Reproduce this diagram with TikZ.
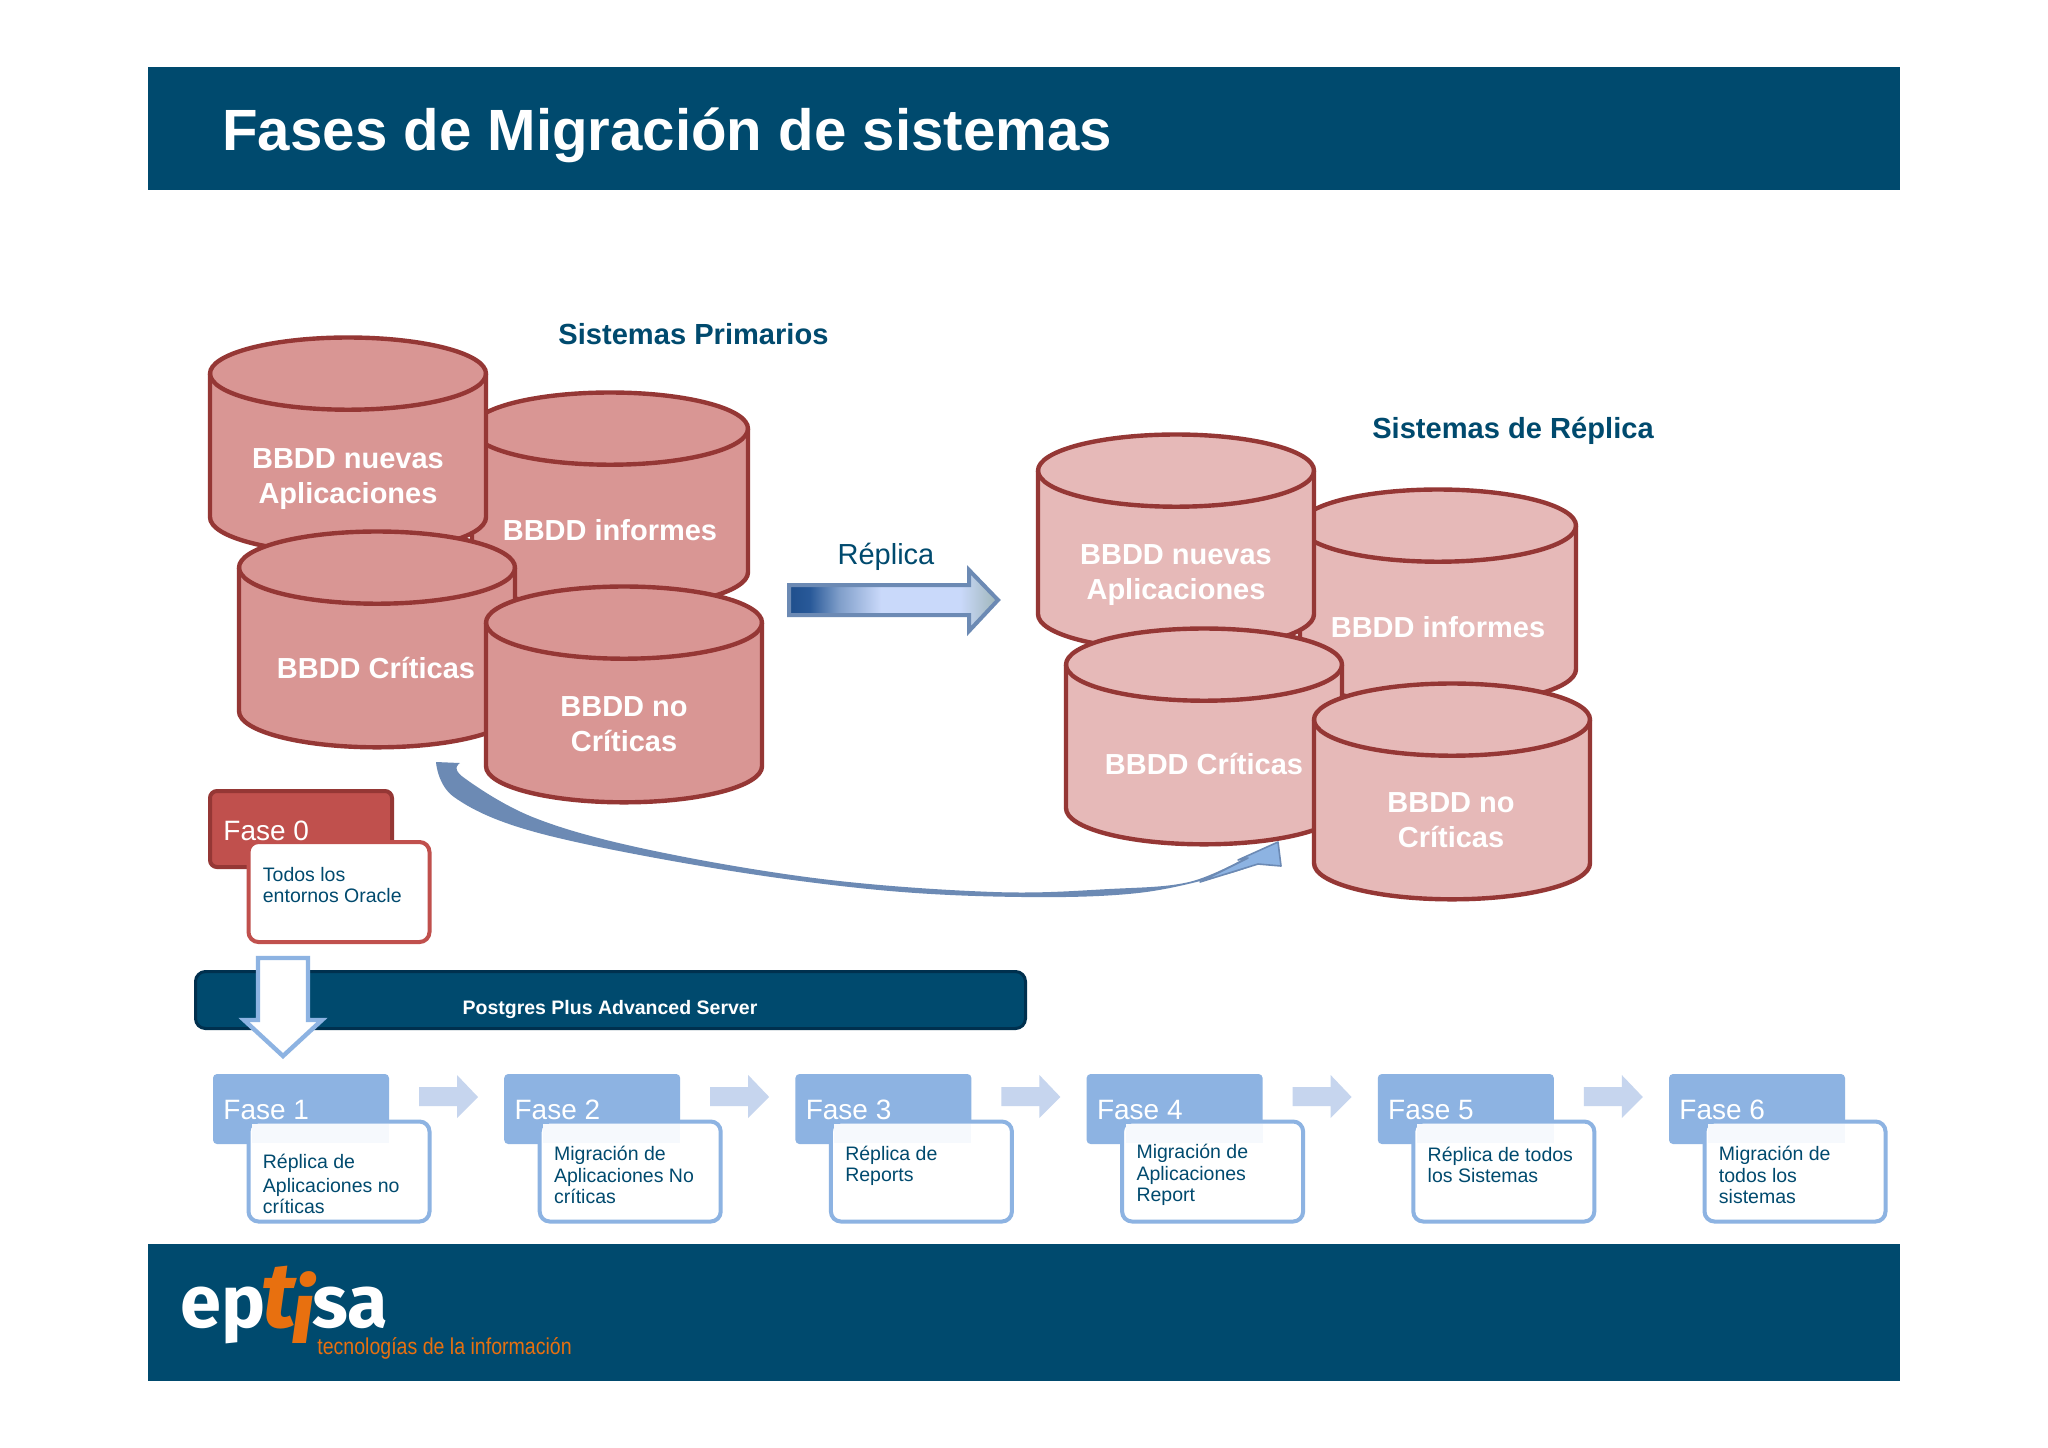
\documentclass[tikz,border=0pt]{standalone}
\usepackage{fontspec}
\usepackage{graphicx}
\setmainfont{Liberation Sans}
\newfontfamily\logofont{Fira Sans}
\usetikzlibrary{calc}
\definecolor{navy}{HTML}{004A6E}
\definecolor{navyedge}{HTML}{00304E}
\definecolor{dbfill}{HTML}{D99694}
\definecolor{dbfilllight}{HTML}{E6B9B8}
\definecolor{dbedge}{HTML}{953735}
\definecolor{redbox}{HTML}{C0504D}
\definecolor{bluebox}{HTML}{8DB3E2}
\definecolor{bluepale}{HTML}{C6D5EE}
\definecolor{curveblue}{HTML}{6C8AB4}
\definecolor{orangelogo}{HTML}{E8700F}
\pgfdeclarehorizontalshading{replicashade}{100bp}{
  rgb(0bp)=(.12,.31,.55);
  rgb(25bp)=(.12,.31,.55);
  rgb(30bp)=(.16,.35,.60);
  rgb(37bp)=(.50,.62,.79);
  rgb(47bp)=(.79,.85,.98);
  rgb(66bp)=(.79,.85,.98);
  rgb(75bp)=(.62,.71,.72);
  rgb(100bp)=(.62,.71,.72)}
\tikzset{
  dbtext/.style={text=white,font={\fontsize{14.5}{17.5}\selectfont\bfseries},align=center,inner sep=0},
  headtext/.style={text=navy,font={\fontsize{14.55}{18}\selectfont\bfseries},inner sep=0},
  fasebox/.style={rectangle,rounded corners=2pt,minimum width=88pt,minimum height=35pt,inner sep=0,outer sep=0,fill=bluebox},
  faseboxred/.style={rectangle,rounded corners=3.5pt,minimum width=91pt,minimum height=38pt,inner sep=0,outer sep=0,fill=redbox,draw=dbedge,line width=2pt},
  notebox/.style={rectangle,rounded corners=5pt,minimum width=90.5pt,minimum height=50pt,inner sep=0,outer sep=0,fill=white,draw=bluebox,line width=2pt},
  noteboxred/.style={notebox,draw=redbox},
  fasetext/.style={text=white,font={\fontsize{14}{17}\selectfont},anchor=base west,inner sep=0},
  notetext/.style={text=navy,font={\fontsize{9.75}{10.6}\selectfont},align=left,anchor=west,inner sep=0},
  stepper/.style={fill=bluepale,draw=none},
}
% cylinder: name, left, top, fill
\newcommand{\dbcyl}[4]{%
  \pgfmathsetmacro{\cL}{#2+1}%
  \pgfmathsetmacro{\cR}{#2+277}%
  \pgfmathsetmacro{\cM}{#2+139}%
  \pgfmathsetmacro{\cT}{#3+0.5}%
  \pgfmathsetmacro{\cYa}{#3+36.6}%
  \pgfmathsetmacro{\cYb}{#3+36.6+143.6}%
  \pgfmathsetmacro{\cYc}{#3+36.6+143.6+36.1}%
  \pgfmathsetmacro{\cKx}{138*0.5523}%
  \pgfmathsetmacro{\cKy}{36.1*0.5523}%
  \coordinate (#1) at (\cM,\cYa);
  \draw[fill=#4,draw=dbedge,line width=2.2pt,line join=round]
    (\cL,\cYa) -- (\cL,\cYb)
    .. controls (\cL,\cYb+\cKy) and (\cM-\cKx,\cYc) .. (\cM,\cYc)
    .. controls (\cM+\cKx,\cYc) and (\cR,\cYb+\cKy) .. (\cR,\cYb)
    -- (\cR,\cYa)
    .. controls (\cR,\cYa-\cKy) and (\cM+\cKx,\cT) .. (\cM,\cT)
    .. controls (\cM-\cKx,\cT) and (\cL,\cYa-\cKy) .. (\cL,\cYa) -- cycle;
  \draw[draw=dbedge,line width=2.2pt]
    (\cL,\cYa)
    .. controls (\cL,\cYa+\cKy) and (\cM-\cKx,\cYa+36.1) .. (\cM,\cYa+36.1)
    .. controls (\cM+\cKx,\cYa+36.1) and (\cR,\cYa+\cKy) .. (\cR,\cYa);
}
% one phase: index, caption, centre y of note text, note text
\newcommand{\faseblock}[4]{%
  \pgfmathsetmacro{\fO}{291.2*(#1-1)}%
  \node[fasebox] (fase#1) at (\fO+301,1109) {};
  \node[notebox] (note#1) at (\fO+339,1171.5) {};
  \fill[fill=bluebox!8] (\fO+252,1124) rectangle (\fO+389,1143);
  \node[fasetext] (fasetxt#1) at (\fO+223,1119) {#2};
  \node[notetext] (notetxt#1) at (\fO+262.5,#3) {#4};
}
\newcommand{\stepperarrow}[1]{%
  \pgfmathsetmacro{\fO}{291.2*(#1-1)}%
  \fill[stepper] (\fO+419,1087) -- (\fO+457,1087) -- (\fO+457,1075) -- (\fO+478,1097)
     -- (\fO+457,1118) -- (\fO+457,1106) -- (\fO+419,1106) -- cycle;
}
\begin{document}
\begin{tikzpicture}[x=0.5pt,y=-0.5pt]
\useasboundingbox (0,0) rectangle (2048,1447);
\fill[white] (0,0) rectangle (2048,1447);
% header and footer
\fill[navy] (148,67) rectangle (1900,190);
\fill[navy] (148,1244) rectangle (1900,1381);
\node[anchor=base west,inner sep=0,text=white,font={\fontsize{29.1}{34}\selectfont\bfseries}] (title) at (222,150) {Fases de Migración de sistemas};
% primary systems
\node[headtext] (prim) at (693.5,334) {Sistemas Primarios};
\dbcyl{pb}{471}{392}{dbfill}
\dbcyl{pa}{209}{337}{dbfill}
\dbcyl{pc}{238}{531}{dbfill}
\dbcyl{pd}{485}{586}{dbfill}
\node[dbtext] (pat) at (348,479) {BBDD nuevas\\Aplicaciones};
\node[dbtext] (pbt) at (610,530) {BBDD informes};
\node[dbtext] (pct) at (376,668) {BBDD Críticas};
\node[dbtext] (pdt) at (624,724) {BBDD no\\Críticas};
% replica systems
\node[headtext] (repl) at (1513,431) {Sistemas de Réplica};
\dbcyl{rb}{1299}{489}{dbfilllight}
\dbcyl{ra}{1037}{434}{dbfilllight}
\dbcyl{rc}{1065}{628}{dbfilllight}
\dbcyl{rd}{1313}{683}{dbfilllight}
\node[dbtext] (rat) at (1176,575) {BBDD nuevas\\Aplicaciones};
\node[dbtext] (rbt) at (1438,627) {BBDD informes};
\node[dbtext] (rct) at (1204,764) {BBDD Críticas};
\node[dbtext] (rdt) at (1451,820) {BBDD no\\Críticas};
% replica arrow
\node[text=navy,inner sep=0,font={\fontsize{14.5}{17}\selectfont}] (repllabel) at (886,557) {Réplica};
\shadedraw[shading=replicashade,draw=curveblue,line width=2pt,line join=miter]
  (789,585) -- (969,585) -- (969,570) -- (998,600) -- (969,631) -- (969,615) -- (789,615) -- cycle;
% curved arrow
\fill[curveblue]
  plot[smooth,tension=0.6] coordinates {(436,762) (454,797) (535,832) (707,867) (879,890) (1023,897) (1138,893) (1224,875) (1256,864)}
  -- plot[smooth,tension=0.6] coordinates {(1247,857) (1189,882) (1109,889) (994,892) (822,879) (650,850) (535,818) (463,777) (460,763)}
  -- cycle;
\fill[bluebox,draw=curveblue,line width=0.8pt,line join=round]
  (1278,842) -- (1281,866) -- (1258,864) -- (1200,882) -- (1248,858) -- (1238,860) -- cycle;
% phase 0
\node[faseboxred] (fase0) at (301,829) {};
\node[noteboxred] (note0) at (339,892) {};
\node[fasetext] (fasetxt0) at (223,840) {Fase 0};
\node[notetext] (notetxt0) at (262.5,885) {Todos los\\entornos Oracle};
% server bar
\node[rectangle,rounded corners=5pt,minimum width=415pt,minimum height=28.5pt,inner sep=0,outer sep=0,fill=navy,draw=navyedge,line width=1.5pt] (bar) at (610.5,1000) {};
\node[inner sep=0,text=white,font={\fontsize{9.75}{12}\selectfont\bfseries}] (bartxt) at (610,1009) {Postgres Plus Advanced Server};
% down arrow
\draw[fill=white,draw=bluebox,line width=2.2pt,line join=miter]
  (258,958) -- (308,958) -- (308,1020) -- (322,1020) -- (283,1056) -- (244,1020) -- (258,1020) -- cycle;
% phases
\stepperarrow{1}\stepperarrow{2}\stepperarrow{3}\stepperarrow{4}\stepperarrow{5}
\faseblock{1}{Fase 1}{1184}{Réplica de\\[1pt]Aplicaciones no\\críticas}
\faseblock{2}{Fase 2}{1175}{Migración de\\Aplicaciones No\\críticas}
\faseblock{3}{Fase 3}{1166}{Réplica de\\Reports}
\faseblock{4}{Fase 4}{1175}{Migración de\\Aplicaciones\\Report}
\faseblock{5}{Fase 5}{1165}{Réplica de todos\\los Sistemas}
\faseblock{6}{Fase 6}{1175}{Migración de\\todos los\\sistemas}
% logo
\node[anchor=base west,inner sep=0,text=white,font={\logofont\fontsize{37}{44}\selectfont}] (logo) at (180,1327)
  {\bfseries ep\kern-2pt{\color{orangelogo}\itshape\scalebox{1.25}{t}\kern-3pt\raisebox{-8pt}{\scalebox{1.2}{i}}}\kern-1pt sa};
\node[anchor=base west,inner sep=0,text=orangelogo,font={\fontsize{11.5}{14}\selectfont}] (tagline) at (317,1354)
  {\scalebox{0.85}[1]{tecnologías de la información}};
\end{tikzpicture}
\end{document}
